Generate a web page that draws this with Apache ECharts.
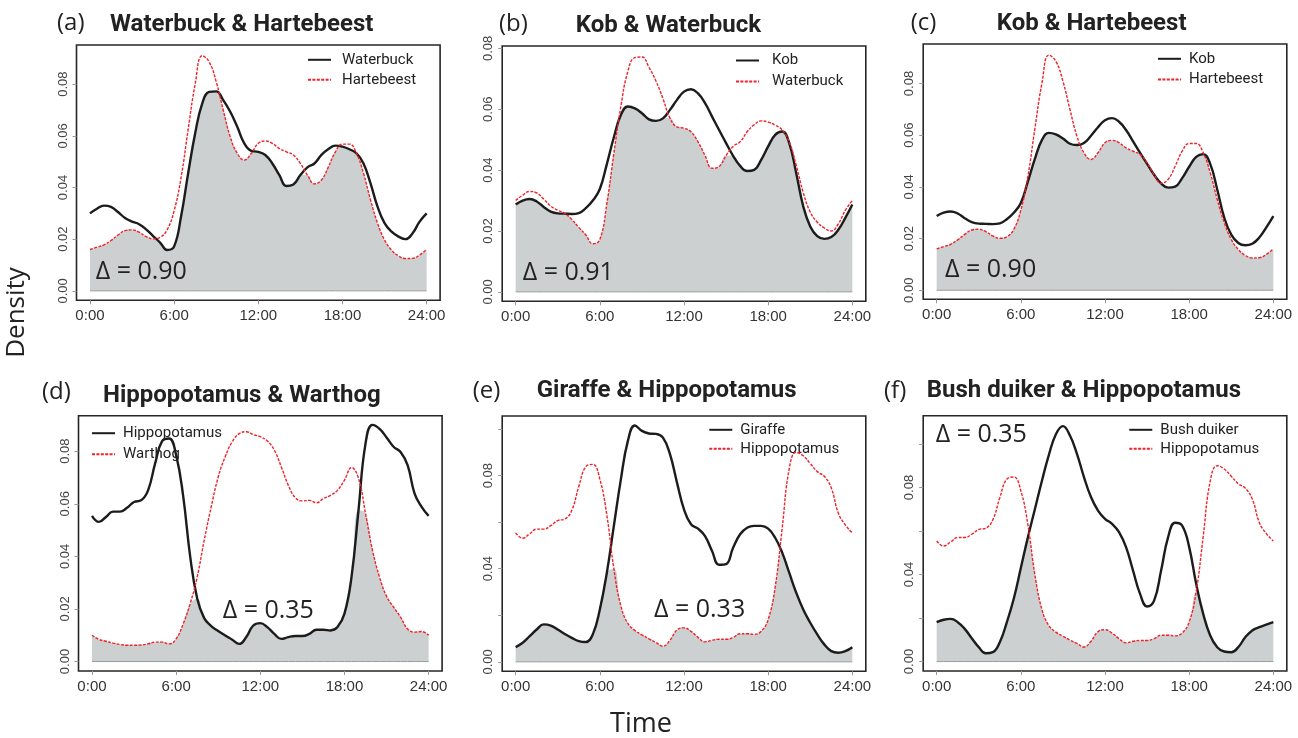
<!DOCTYPE html>
<html>
<head>
<meta charset="utf-8">
<script src="https://cdn.jsdelivr.net/npm/echarts@6/dist/echarts.min.js"></script>
<style>
html,body{margin:0;padding:0;background:#fff;}
#chart{width:1298px;height:738px;}
</style>
</head>
<body>
<div id="chart"></div>
<script>
// ---- data: time of day (hours) and activity densities ----
const hours = [0,0.5,1,1.5,2,2.5,3,3.5,4,4.5,5,5.5,6,6.5,7,7.5,8,8.5,9,9.5,10,10.5,11,11.5,12,12.5,13,13.5,14,14.5,15,15.5,16,16.5,17,17.5,18,18.5,19,19.5,20,20.5,21,21.5,22,22.5,23,23.5,24];
const xTickValues = [0,6,12,18,24];

const waterbuck = [
0.0300,0.0318,0.0330,0.0325,0.0305,0.0282,0.0268,0.0258,0.0238,0.0212,
0.0187,0.0158,0.0172,0.0290,0.0455,0.0610,0.0725,0.0770,0.0772,0.0738,
0.0693,0.0635,0.0571,0.0542,0.0538,0.0526,0.0493,0.0448,0.0406,0.0412,
0.0448,0.0478,0.0493,0.0526,0.0549,0.0562,0.0558,0.0548,0.0532,0.0493,
0.0416,0.0326,0.0262,0.0229,0.0210,0.0200,0.0223,0.0268,0.0300];
const hartebeest = [
0.0160,0.0169,0.0178,0.0195,0.0216,0.0233,0.0236,0.0227,0.0210,0.0201,
0.0207,0.0236,0.0310,0.0440,0.0625,0.0800,0.0910,0.0886,0.0809,0.0700,
0.0596,0.0532,0.0506,0.0532,0.0571,0.0580,0.0571,0.0551,0.0538,0.0526,
0.0493,0.0448,0.0414,0.0429,0.0480,0.0538,0.0568,0.0568,0.0532,0.0455,
0.0352,0.0262,0.0197,0.0158,0.0135,0.0125,0.0126,0.0139,0.0160];
const kob = [
0.0287,0.0300,0.0305,0.0297,0.0279,0.0264,0.0258,0.0257,0.0256,0.0259,
0.0275,0.0300,0.0338,0.0420,0.0508,0.0581,0.0609,0.0603,0.0587,0.0567,
0.0562,0.0570,0.0598,0.0631,0.0658,0.0666,0.0652,0.0620,0.0576,0.0532,
0.0489,0.0447,0.0414,0.0397,0.0401,0.0434,0.0478,0.0516,0.0527,0.0489,
0.0390,0.0281,0.0215,0.0183,0.0174,0.0180,0.0204,0.0243,0.0287];
const hippopotamus = [
0.0554,0.0531,0.0550,0.0570,0.0570,0.0585,0.0607,0.0613,0.0651,0.0753,
0.0838,0.0848,0.0785,0.0630,0.0400,0.0240,0.0165,0.0135,0.0116,0.0099,
0.0083,0.0067,0.0093,0.0137,0.0146,0.0131,0.0105,0.0086,0.0093,0.0097,
0.0097,0.0105,0.0121,0.0121,0.0118,0.0131,0.0182,0.0321,0.0575,0.0829,
0.0900,0.0885,0.0852,0.0817,0.0797,0.0747,0.0639,0.0588,0.0554];
const warthog = [
0.0100,0.0084,0.0077,0.0070,0.0065,0.0062,0.0062,0.0063,0.0067,0.0074,
0.0074,0.0067,0.0086,0.0143,0.0220,0.0321,0.0461,0.0588,0.0702,0.0779,
0.0836,0.0867,0.0874,0.0863,0.0855,0.0839,0.0804,0.0740,0.0670,0.0623,
0.0611,0.0613,0.0604,0.0620,0.0632,0.0651,0.0690,0.0738,0.0697,0.0563,
0.0423,0.0321,0.0248,0.0207,0.0169,0.0124,0.0112,0.0114,0.0100];
const giraffe = [
0.0063,0.0082,0.0110,0.0139,0.0161,0.0156,0.0139,0.0120,0.0103,0.0089,
0.0085,0.0118,0.0225,0.0383,0.0584,0.0784,0.0949,0.1015,0.0992,0.0981,
0.0979,0.0963,0.0892,0.0770,0.0655,0.0591,0.0572,0.0540,0.0476,0.0417,
0.0420,0.0490,0.0548,0.0576,0.0584,0.0584,0.0572,0.0533,0.0469,0.0383,
0.0297,0.0225,0.0168,0.0118,0.0075,0.0046,0.0039,0.0046,0.0063];
const bushDuiker = [
0.0181,0.0192,0.0196,0.0181,0.0150,0.0107,0.0066,0.0038,0.0043,0.0089,
0.0180,0.0290,0.0430,0.0570,0.0700,0.0830,0.0950,0.1045,0.1082,0.1039,
0.0955,0.0848,0.0756,0.0694,0.0656,0.0633,0.0595,0.0526,0.0418,0.0311,
0.0253,0.0280,0.0418,0.0572,0.0638,0.0625,0.0526,0.0357,0.0219,0.0120,
0.0066,0.0046,0.0043,0.0066,0.0112,0.0143,0.0158,0.0170,0.0181];

const yTicksA = [0,0.02,0.04,0.06,0.08];
const yTicksB = [0,0.02,0.04,0.06,0.08,0.10];
const yLabelsB = [0,0.04,0.08];

const panels = [
  {id:'a', tag:'(a)', title:'Waterbuck & Hartebeest', blackName:'Waterbuck', redName:'Hartebeest', black:waterbuck, red:hartebeest, delta:'\u0394 = 0.90', ticks:yTicksA, labels:yTicksA},
  {id:'b', tag:'(b)', title:'Kob & Waterbuck', blackName:'Kob', redName:'Waterbuck', black:kob, red:waterbuck, delta:'\u0394 = 0.91', ticks:yTicksA, labels:yTicksA},
  {id:'c', tag:'(c)', title:'Kob & Hartebeest', blackName:'Kob', redName:'Hartebeest', black:kob, red:hartebeest, delta:'\u0394 = 0.90', ticks:yTicksA, labels:yTicksA},
  {id:'d', tag:'(d)', title:'Hippopotamus & Warthog', blackName:'Hippopotamus', redName:'Warthog', black:hippopotamus, red:warthog, delta:'\u0394 = 0.35', ticks:yTicksA, labels:yTicksA},
  {id:'e', tag:'(e)', title:'Giraffe & Hippopotamus', blackName:'Giraffe', redName:'Hippopotamus', black:giraffe, red:hippopotamus, delta:'\u0394 = 0.33', ticks:yTicksB, labels:yLabelsB},
  {id:'f', tag:'(f)', title:'Bush duiker & Hippopotamus', blackName:'Bush duiker', redName:'Hippopotamus', black:bushDuiker, red:hippopotamus, delta:'\u0394 = 0.35', ticks:yTicksB, labels:yLabelsB}
];

// ---- layout (pixels) ----
const layout = [
  {left:76.5, top:45,  yMin:-0.00366, yMax:0.09516, tag:[57,23],  title:[110,24.5],  delta:[95.7,271.5],  leg:{left:307, top:52.3, gap:5, pad:6}},
  {left:502.2, top:46, yMin:-0.0031, yMax:0.0808,   tag:[499,24], title:[575.7,25.5], delta:[522.7,272.5], leg:{left:735, top:53, gap:6, pad:8}},
  {left:923.2, top:44, yMin:-0.0035, yMax:0.0953,   tag:[910.7,23], title:[996.7,23.5], delta:[945,270], leg:{left:1157, top:51.3, gap:5.7, pad:3}},
  {left:78.5, top:415.7, yMin:-0.0036, yMax:0.0935,  tag:[42,391.7], title:[103,395.5], delta:[222.7,611], leg:{left:91, top:425.7, gap:6, pad:3}},
  {left:502.2, top:416, yMin:-0.00406, yMax:0.1056, tag:[472.7,390.7], title:[536.7,391.2], delta:[654,610], leg:{left:708.3, top:422.3, gap:4, pad:3}},
  {left:923.2, top:415.7, yMin:-0.00435, yMax:0.1130, tag:[884,390.7], title:[926.7,391.2], delta:[935.7,435], leg:{left:1128.3, top:422.3, gap:4, pad:3}}
];
const gridW = 363.6, gridH = 255.3;

const grids = [], xAxes = [], yAxes = [], series = [], legends = [], graphics = [];
const axisFont = 'Liberation Sans';

panels.forEach((p, i) => {
  const L = layout[i];
  grids.push({left:L.left, top:L.top, width:gridW, height:gridH, show:true,
    borderColor:'#262626', borderWidth:1.6, backgroundColor:'transparent', containLabel:false, outerBoundsMode:'none'});
  xAxes.push({type:'value', gridIndex:i, min:-0.96, max:24.96,
    axisLine:{show:false, onZero:false}, splitLine:{show:false},
    axisTick:{show:true, customValues:xTickValues, length:4, lineStyle:{color:'#999', width:1}},
    axisLabel:{customValues:xTickValues, formatter:v => Math.round(v) + ':00', fontSize:15, color:'#333', fontFamily:axisFont, margin:8}});
  yAxes.push({type:'value', gridIndex:i, min:L.yMin, max:L.yMax,
    axisLine:{show:false, onZero:false}, splitLine:{show:false},
    axisTick:{show:true, customValues:p.ticks, length:4, lineStyle:{color:'#999', width:1}},
    axisLabel:{customValues:p.labels, formatter:v => v.toFixed(2), rotate:90, fontSize:13, color:'#444', fontFamily:axisFont, margin:7}});

  const blackKey = p.blackName + '|' + p.id;
  const redKey = p.redName + '|' + p.id;
  const overlap = hours.map((h, k) => [h, Math.min(p.black[k], p.red[k])]);
  series.push({type:'line', name:'overlap|' + p.id, xAxisIndex:i, yAxisIndex:i, data:overlap,
    smooth:0.45, symbol:'none', silent:true, z:1, lineStyle:{width:0, opacity:0},
    areaStyle:{color:'#cdd0d1', opacity:1}});
  series.push({type:'line', name:'base|' + p.id, xAxisIndex:i, yAxisIndex:i, data:hours.map(h => [h, 0]),
    symbol:'none', silent:true, z:2, lineStyle:{width:1, color:'#9a9a9a'}});
  series.push({type:'line', name:blackKey, xAxisIndex:i, yAxisIndex:i, data:hours.map((h, k) => [h, p.black[k]]),
    smooth:0.45, symbol:'none', z:3, lineStyle:{width:2.4, color:'#1c1c1c'}, itemStyle:{color:'#1c1c1c', opacity:0}});
  series.push({type:'line', name:redKey, xAxisIndex:i, yAxisIndex:i, data:hours.map((h, k) => [h, p.red[k]]),
    smooth:0.45, symbol:'none', z:4, lineStyle:{width:1.4, color:'#ee2228', type:[3,1.4]}, itemStyle:{color:'#ee2228', opacity:0}});

  legends.push({data:[blackKey, redKey], orient:'vertical', left:L.leg.left, top:L.leg.top,
    itemWidth:23, itemHeight:14, itemGap:L.leg.gap, padding:0, selectedMode:false,
    formatter:n => n.split('|')[0],
    itemStyle:{opacity:0},
    textStyle:{fontSize:15, color:'#222', fontFamily:'Roboto', padding:[0,0,0,L.leg.pad]}});

  graphics.push({type:'text', x:L.tag[0], y:L.tag[1], silent:true,
    style:{text:p.tag, fontSize:24, fontFamily:'Open Sans', fill:'#222', align:'left', verticalAlign:'middle'}});
  graphics.push({type:'text', x:L.title[0], y:L.title[1], silent:true,
    style:{text:p.title, fontSize:24, fontWeight:'bold', fontFamily:'Roboto', fill:'#222', align:'left', verticalAlign:'middle'}});
  graphics.push({type:'text', x:L.delta[0], y:L.delta[1], silent:true, z:10,
    style:{text:p.delta, fontSize:25, fontFamily:'Open Sans', fill:'#222', align:'left', verticalAlign:'middle'}});
});

graphics.push({type:'text', x:17, y:312.5, rotation:Math.PI/2, silent:true,
  style:{text:'Density', fontSize:26, fontFamily:'Open Sans', fill:'#222', align:'center', verticalAlign:'middle'}});
graphics.push({type:'text', x:641, y:724, silent:true,
  style:{text:'Time', fontSize:27, fontFamily:'Open Sans', fill:'#222', align:'center', verticalAlign:'middle'}});

const chart = echarts.init(document.getElementById('chart'), null, {renderer:'canvas'});
chart.setOption({
  animation:false,
  backgroundColor:'#ffffff',
  grid:grids, xAxis:xAxes, yAxis:yAxes, series:series, legend:legends, graphic:graphics
});
</script>
</body>
</html>
